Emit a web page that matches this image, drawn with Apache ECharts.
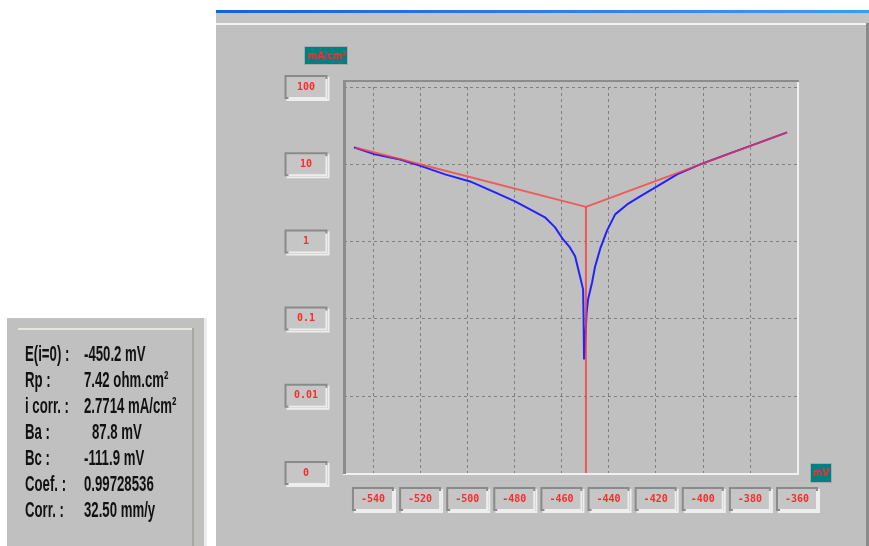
<!DOCTYPE html>
<html>
<head>
<meta charset="utf-8">
<script src="https://cdn.jsdelivr.net/npm/echarts@6/dist/echarts.min.js"></script>
<style>
html,body{margin:0;padding:0;background:#ffffff;}
#chart{width:869px;height:546px;}
</style>
</head>
<body>
<div id="chart"></div>
<script>
// ---- data ----
const xTickValues = [-540, -520, -500, -480, -460, -440, -420, -400, -380, -360];
const yTickLabels = ['0', '0.01', '0.1', '1', '10', '100'];

// measured polarisation curve (blue): potential (mV) and |current density| (mA/cm²)
const curveE = [-548.1, -539.2, -528.5, -519.2, -509.4, -498.8, -488.2, -479.7, -473.3, -467.0,
  -462.7, -459.3, -456.4, -454.2, -452.1, -450.8, -450.6, -450.4, -449.8, -449.3,
  -448.7, -447.0, -445.7, -443.5, -440.6, -437.2, -432.1, -426.6, -419.4, -410.9,
  -401.1, -389.7, -376.9, -364.2];
const curveI = [16.5, 13.4, 11.5, 9.36, 7.38, 5.98, 4.31, 3.30, 2.60, 2.05,
  1.52, 1.06, 0.836, 0.64, 0.352, 0.239, 0.10, 0.0296, 0.06, 0.12,
  0.177, 0.294, 0.474, 0.811, 1.39, 2.24, 3.01, 3.83, 5.16, 7.38,
  9.94, 13.4, 18.6, 25.8];

// Tafel fit lines (red)
const tafelE = [-547.6, -449.6, -364.2];
const tafelI = [16.5, 2.8, 25.8];
// corrosion potential marker (red vertical)
const ecorrE = [-449.6, -449.6];
const ecorrI = [2.8, 0.001];

// result panel
const infoLabels = ['E(i=0) :', 'Rp :', 'i corr. :', 'Ba :', 'Bc :', 'Coef. :', 'Corr. :'];
const infoValues = ['-450.2 mV', '7.42 ohm.cm²', '2.7714 mA/cm²', '87.8 mV', '-111.9 mV', '0.99728536', '32.50 mm/y'];

// ---- build ----
const zip = (a, b) => a.map((v, i) => [v, b[i]]);

const chart = echarts.init(document.getElementById('chart'), null, {renderer: 'canvas'});

const labelBox = {
  color: '#ff2a2a',
  fontSize: 10,
  fontWeight: 'bold',
  fontFamily: 'DejaVu Sans Mono',
  backgroundColor: '#c6c6c6',
  borderColor: '#8a8a8a',
  borderWidth: 2,
  shadowColor: '#eeeeee',
  shadowOffsetX: 2,
  shadowOffsetY: 2,
  shadowBlur: 0,
  padding: [5, 4, 5, 4],
  align: 'center'
};

const graphics = [];
// window backgrounds
graphics.push({type: 'rect', z: -20, silent: true, shape: {x: 216, y: 10, width: 653, height: 536}, style: {fill: '#c0c0c0'}});
graphics.push({type: 'rect', z: -19, silent: true, shape: {x: 216, y: 10, width: 653, height: 3},
  style: {fill: new echarts.graphic.LinearGradient(0, 0, 1, 0, [{offset: 0, color: '#1560e0'}, {offset: 1, color: '#3a9cff'}])}});
graphics.push({type: 'rect', z: -19, silent: true, shape: {x: 216, y: 13, width: 653, height: 10}, style: {fill: '#c4c4c4'}});
graphics.push({type: 'rect', z: -19, silent: true, shape: {x: 216, y: 23, width: 650, height: 2}, style: {fill: '#f2f2f2'}});
graphics.push({type: 'rect', z: -19, silent: true, shape: {x: 866, y: 23, width: 3, height: 523}, style: {fill: '#8a8a8a'}});
// info panel
graphics.push({type: 'rect', z: -19, silent: true, shape: {x: 7, y: 318, width: 198, height: 228}, style: {fill: '#c0c0c0'}});
graphics.push({type: 'rect', z: -18, silent: true, shape: {x: 18, y: 328, width: 176, height: 2}, style: {fill: '#e6e6dc'}});
graphics.push({type: 'rect', z: -18, silent: true, shape: {x: 192, y: 328, width: 2, height: 218}, style: {fill: '#a8a8a0'}});
graphics.push({type: 'rect', z: -18, silent: true, shape: {x: 204, y: 318, width: 3, height: 228}, style: {fill: '#ececec'}});
infoLabels.forEach((t, k) => {
  const y = 355 + k * 26;
  graphics.push({type: 'text', z: 5, x: 25, y: y, scaleX: 0.6, silent: true,
    style: {text: t, x: 0, y: 0, fill: '#111111', font: 'bold 22px "Liberation Sans Narrow", "Liberation Sans", sans-serif', verticalAlign: 'middle', align: 'left'}});
  graphics.push({type: 'text', z: 5, x: (k === 3 ? 92 : 84), y: y, scaleX: 0.6, silent: true,
    style: {text: infoValues[k], x: 0, y: 0, fill: '#111111', font: 'bold 22px "Liberation Sans Narrow", "Liberation Sans", sans-serif', verticalAlign: 'middle', align: 'left'}});
});
// plot frame (sunken)
graphics.push({type: 'rect', z: 20, silent: true, shape: {x: 343, y: 80, width: 3, height: 394}, style: {fill: '#8c8c8c'}});
graphics.push({type: 'rect', z: 20, silent: true, shape: {x: 343, y: 80, width: 456, height: 2}, style: {fill: '#8c8c8c'}});
graphics.push({type: 'rect', z: 1, silent: true, shape: {x: 797, y: 80, width: 2, height: 395}, style: {fill: '#f0f0f0'}});
graphics.push({type: 'rect', z: 1, silent: true, shape: {x: 343, y: 473, width: 456, height: 2}, style: {fill: '#f0f0f0'}});
// unit boxes
graphics.push({type: 'text', z: 20, x: 305, y: 47, silent: true,
  style: {text: 'mA/cm²', x: 0, y: 0, fill: '#ff2a2a', font: 'bold 10px "DejaVu Sans Condensed", "DejaVu Sans", sans-serif',
    backgroundColor: '#008080', padding: [4, 3, 3, 3], width: 36, align: 'left', verticalAlign: 'top',
    borderColor: '#a8a8a8', borderWidth: 1}});
graphics.push({type: 'text', z: 20, x: 811, y: 464, silent: true,
  style: {text: 'mV', x: 0, y: 0, fill: '#ff2a2a', font: 'bold 10px "DejaVu Sans Condensed", "DejaVu Sans", sans-serif',
    backgroundColor: '#008080', padding: [4, 2, 4, 2], width: 16, align: 'left', verticalAlign: 'top',
    borderColor: '#a8a8a8', borderWidth: 1}});

const option = {
  backgroundColor: '#ffffff',
  animation: false,
  grid: {left: 344, right: 72, top: 87, bottom: 73, containLabel: false, outerBoundsMode: 'none'},
  xAxis: {
    type: 'value', min: -552.3, max: -360,
    axisLine: {show: false},
    axisTick: {show: false, customValues: xTickValues},
    axisLabel: Object.assign({customValues: xTickValues, margin: 16, width: 30, formatter: v => String(v)}, labelBox),
    splitLine: {show: true, lineStyle: {color: '#808080', width: 1, type: [3, 3]}}
  },
  yAxis: {
    type: 'log', logBase: 10, min: 0.001, max: 100,
    axisLine: {show: false},
    axisTick: {show: false},
    axisLabel: Object.assign({margin: 38, width: 31, formatter: (v, i) => yTickLabels[i]}, labelBox),
    splitLine: {show: true, lineStyle: {color: '#808080', width: 1, type: [3, 3]}}
  },
  graphic: {elements: graphics},
  series: [
    {type: 'line', name: 'measured', data: zip(curveE, curveI), showSymbol: false, symbol: 'none', z: 3,
      lineStyle: {color: '#2222ff', width: 2}},
    {type: 'line', name: 'tafel', data: zip(tafelE, tafelI), showSymbol: false, symbol: 'none', z: 4,
      lineStyle: {color: '#ff3a3a', width: 2, opacity: 0.75}},
    {type: 'line', name: 'ecorr', data: zip(ecorrE, ecorrI), showSymbol: false, symbol: 'none', z: 4,
      lineStyle: {color: '#ff3a3a', width: 2, opacity: 0.8}}
  ]
};
chart.setOption(option);
</script>
</body>
</html>
